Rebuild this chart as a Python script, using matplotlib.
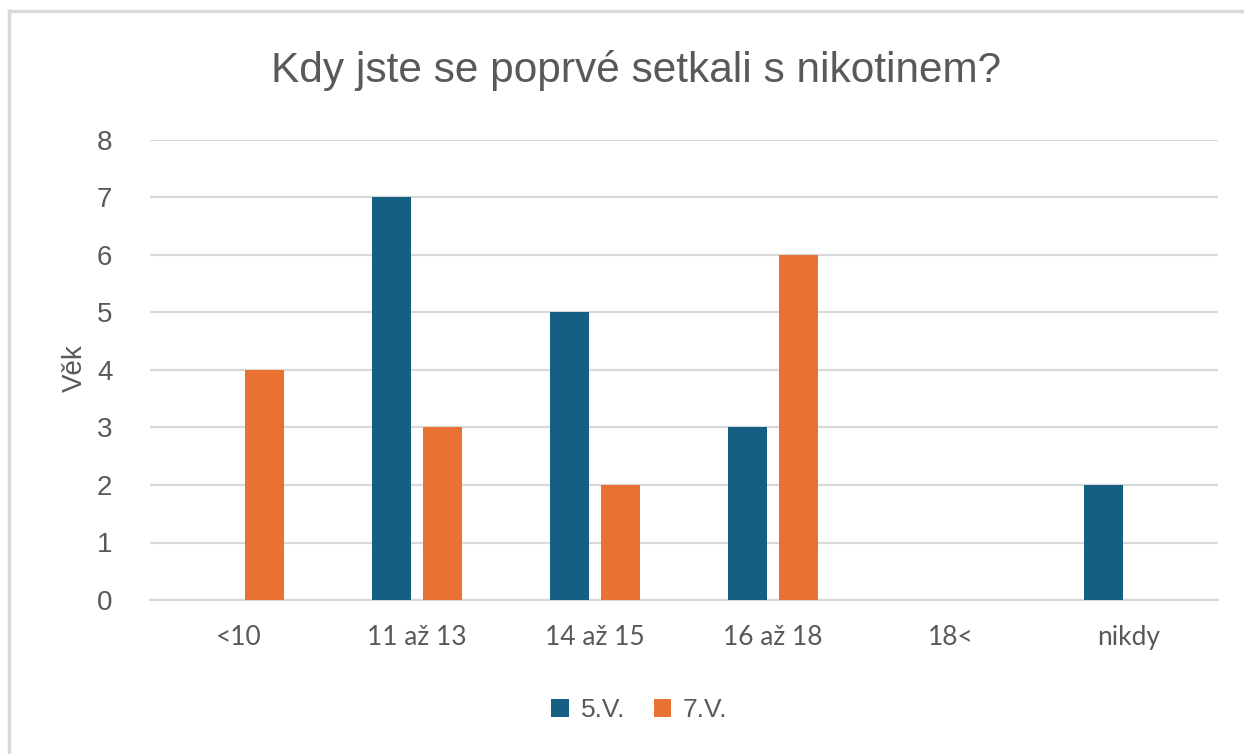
import numpy as np
import matplotlib
matplotlib.use("Agg")
import matplotlib.pyplot as plt
from matplotlib.lines import Line2D

# ---------------------------------------------------------------------------
# Data
# ---------------------------------------------------------------------------
categories = ["<10", "11 až 13", "14 až 15", "16 až 18", "18<", "nikdy"]
series_names = ["5.V.", "7.V."]
values_5v = [0, 7, 5, 3, 0, 2]
values_7v = [4, 3, 2, 6, 0, 0]

COLOR_5V = "#156082"
COLOR_7V = "#E97132"
COLOR_TEXT = "#595959"
COLOR_GRID = "#D9D9D9"

plt.rcParams["font.family"] = ["Liberation Sans", "DejaVu Sans"]

fig = plt.figure(figsize=(12.44, 7.54), dpi=100)
ax = fig.add_axes([150 / 1244, 154 / 754, (1218 - 150) / 1244, 460 / 754])

x = np.arange(len(categories))
w = 0.22
off = 0.143
ax.bar(x - off, values_5v, w, color=COLOR_5V, label=series_names[0], zorder=3)
ax.bar(x + off, values_7v, w, color=COLOR_7V, label=series_names[1], zorder=3)

ax.set_xlim(-0.5, len(categories) - 0.5)
ax.set_ylim(0, 8)
ax.set_yticks(range(0, 9))
ax.yaxis.grid(True, color=COLOR_GRID, lw=1.6, zorder=0)
ax.set_axisbelow(True)
for s in ["top", "right", "left"]:
    ax.spines[s].set_visible(False)
ax.spines["bottom"].set_color(COLOR_GRID)
ax.spines["bottom"].set_linewidth(1.6)
ax.tick_params(axis="both", length=0, colors=COLOR_TEXT)
ax.tick_params(axis="y", labelsize=20, pad=27)
ax.tick_params(axis="x", labelsize=19, pad=18)
ax.set_xticks(x)
ax.set_xticklabels(categories, family=["Lato", "DejaVu Sans"])

ax.set_ylabel("Věk", fontsize=20, color=COLOR_TEXT)
ax.yaxis.set_label_coords(-0.058, 0.504)

fig.text(0.511, 0.907, "Kdy jste se poprvé setkali s nikotinem?",
         ha="center", va="center", fontsize=30.5, color=COLOR_TEXT)

fig.legend(loc="center", bbox_to_anchor=(0.514, 0.058), ncol=2, frameon=False,
           fontsize=19, handlelength=0.65, handleheight=0.65, handletextpad=0.45,
           columnspacing=1.1, labelcolor=COLOR_TEXT)

# chart-area border (top and left visible in the crop)
fig.add_artist(Line2D([8.5 / 1244, 1], [1 - 10.5 / 754] * 2,
                      transform=fig.transFigure, color="#D9D9D9", lw=2.5))
fig.add_artist(Line2D([8.5 / 1244] * 2, [0, 1 - 10.5 / 754],
                      transform=fig.transFigure, color="#D9D9D9", lw=2.5))

fig.savefig("out.png", dpi=100)
